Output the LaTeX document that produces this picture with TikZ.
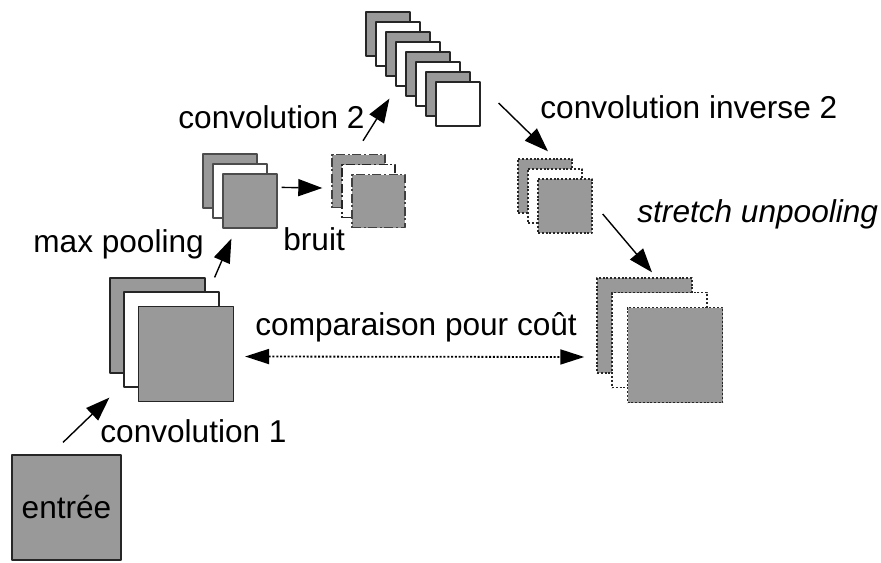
\documentclass[tikz,border=0pt]{standalone}
\usepackage{fontspec}
\setmainfont{Liberation Sans}
\usetikzlibrary{arrows.meta,positioning}
\definecolor{boxgray}{RGB}{153,153,153}

\begin{document}
\begin{tikzpicture}[x=0.5pt,y=-0.5pt,>={Triangle[length=12pt,width=8.5pt]},line join=round,
  lbl/.style={anchor=base west,inner sep=0pt,font=\fontsize{15.8}{19}\selectfont},
  sq/.style={draw=black!85,line width=0.6pt,inner sep=0pt,minimum width=#1,minimum height=#1},
  noisy/.style={line width=0.7pt,dash pattern=on 4.5pt off 1.3pt on 1pt off 1.3pt},
  dots/.style={line width=0.7pt,dash pattern=on 1pt off 0.9pt},
  arr/.style={->,line width=0.7pt}]
  \useasboundingbox (0,0) rectangle (881,562);

  \node[sq=54.5pt,minimum height=52.5pt,fill=boxgray,font=\fontsize{15.8}{19}\selectfont] (in) at (66.5,507.5) {entr\'ee};

  \node[sq=47.5pt,fill=boxgray] (c1a) at (157.5,325.5) {};
  \node[sq=47.5pt,fill=white] (c1b) at (171.5,339.5) {};
  \node[sq=47.5pt,fill=boxgray] (c1c) at (186,354) {};

  \node[sq=27pt,fill=boxgray,draw=black!70] (mpa) at (230,181) {};
  \node[sq=27pt,fill=white,draw=black!70] (mpb) at (240,191) {};
  \node[sq=27pt,fill=boxgray,draw=black!70] (mpc) at (250,201) {};

  \node[sq=26.5pt,fill=boxgray,noisy,draw=black!75] (nza) at (358.5,181) {};
  \node[sq=26.5pt,fill=white,noisy] (nzb) at (368.5,191) {};
  \node[sq=26.5pt,fill=boxgray,noisy,draw=black!75] (nzc) at (378.5,201) {};

  \foreach \i/\c in {0/boxgray,1/white,2/boxgray,3/white,4/boxgray,5/white,6/boxgray,7/white}
    \node[sq=22pt,fill=\c] (c2-\i) at ({388+10*\i},{34+10*\i}) {};

  \node[sq=27pt,fill=boxgray,dots] (dca) at (545,186) {};
  \node[sq=27pt,fill=white,dots] (dcb) at (555,196) {};
  \node[sq=27pt,fill=boxgray,dots] (dcc) at (565,206) {};

  \node[sq=47.5pt,fill=boxgray,dots] (upa) at (644.5,325.5) {};
  \node[sq=47.5pt,fill=white,dots] (upb) at (659.5,340) {};
  \node[sq=47.5pt,fill=boxgray,dots] (upc) at (675,355) {};

  \draw[arr] ([shift={(-3.5,-12)}]in.north) -- ([shift={(0,24)}]c1a.south west);
  \draw[arr] ([shift={(9,0)}]c1a.north east) -- ([shift={(9,10)}]mpc.south west);
  \draw[arr] ([shift={(4,14)}]mpc.north east) -- ([shift={(-9,7)}]nza.west);
  \draw[arr] ([shift={(4.5,-13)}]nza.north) -- ([shift={(-16,2)}]c2-4.south west);
  \draw[arr] ([shift={(18,-1)}]c2-7.east) -- ([shift={(3,-7)}]dca.north);
  \draw[arr] ([shift={(10,8)}]dcc.east) -- ([shift={(7.5,-5)}]upa.north);
  \draw[<->,dots,line width=0.9pt,>={Triangle[length=12pt,width=7.5pt]}] ([shift={(11,2.5)}]c1c.east) -- ([shift={(-12,31.5)}]upa.west);

  \node[lbl] (l1) at (100,442) {convolution 1};
  \node[lbl] (lmp) at (33,252) {max pooling};
  \node[lbl] (lnz) at (283,250) {bruit};
  \node[lbl] (l2) at (178,128) {convolution 2};
  \node[lbl] (ld) at (540,118) {convolution inverse 2};
  \node[lbl] (lu) at (637,222) {\textit{stretch unpooling}};
  \node[lbl] (lc) at (255,335) {comparaison pour co\^ut};
\end{tikzpicture}
\end{document}
